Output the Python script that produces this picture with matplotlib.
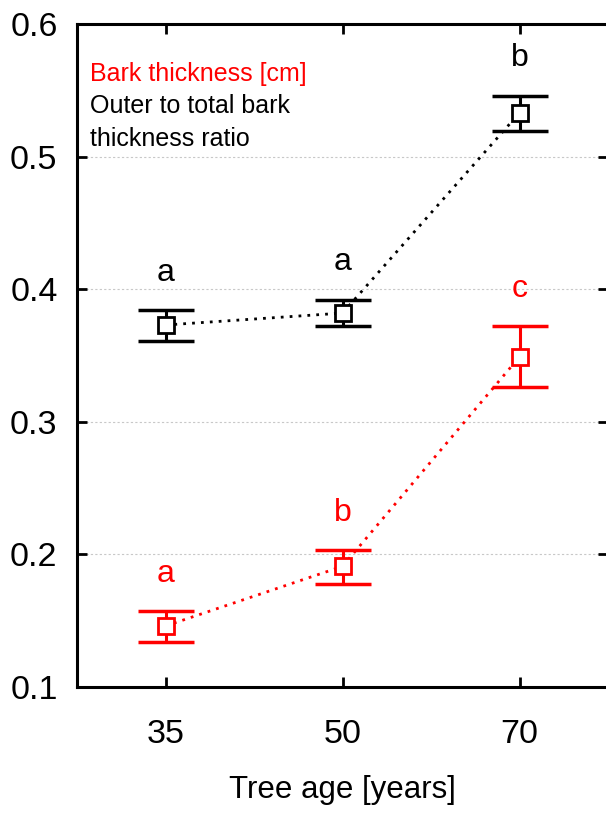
import matplotlib
matplotlib.use("Agg")
import matplotlib.pyplot as plt
import numpy as np

plt.rcParams['font.family'] = ['Liberation Sans', 'DejaVu Sans']

ages = ["35", "50", "70"]
bark_mean = [0.146, 0.191, 0.349]
bark_lo = [0.134, 0.178, 0.326]
bark_hi = [0.157, 0.203, 0.372]
bark_letters = ["a", "b", "c"]

ratio_mean = [0.373, 0.382, 0.533]
ratio_lo = [0.361, 0.372, 0.519]
ratio_hi = [0.384, 0.392, 0.546]
ratio_letters = ["a", "a", "b"]

yticks = [0.1, 0.2, 0.3, 0.4, 0.5, 0.6]

fig = plt.figure(figsize=(6.06, 8.13), dpi=100)
ax = fig.add_axes([77/606, 1-687/813, 531/606, (687-24)/813])

x = np.arange(len(ages))

def draw(mean, lo, hi, letters, color, label_off):
    mean = np.array(mean); lo = np.array(lo); hi = np.array(hi)
    ax.plot(x, mean, linestyle=(0, (1, 2.2)), color=color, lw=2, zorder=2)
    ax.errorbar(x, mean, yerr=[mean-lo, hi-mean], fmt='none', ecolor=color,
                elinewidth=2.2, capsize=20, capthick=2.5, zorder=3)
    ax.plot(x, mean, linestyle='none', marker='s', markersize=11.5,
            markerfacecolor='white', markeredgecolor=color, markeredgewidth=2, zorder=4)
    for xi, h, t in zip(x, hi, letters):
        ax.text(xi, h + label_off, t, color=color, ha='center', va='bottom', fontsize=23)

draw(ratio_mean, ratio_lo, ratio_hi, ratio_letters, 'black', 0.017)
draw(bark_mean, bark_lo, bark_hi, bark_letters, '#ff0000', 0.017)

ax.set_xlim(-0.5, 2.5)
ax.set_ylim(0.1, 0.6)
ax.set_xticks(x)
ax.set_xticklabels(ages)
ax.set_yticks(yticks)
ax.set_yticklabels([f"{v:.1f}" for v in yticks])
ax.tick_params(direction='in', length=7, width=2, top=True, right=True,
               labelsize=24.5)
ax.tick_params(axis='x', pad=23)
ax.tick_params(axis='y', pad=14)
for s in ax.spines.values():
    s.set_linewidth(2.2)
for v in [0.2, 0.3, 0.4, 0.5]:
    ax.axhline(v, color='#c8c8c8', lw=0.8, linestyle=(0, (2, 2)), zorder=0)

ax.set_xlabel("Tree age [years]", fontsize=22.5, labelpad=18)

ax.text(0.025, 0.925, "Bark thickness [cm]", color='#ff0000', fontsize=18,
        transform=ax.transAxes, ha='left', va='center')
ax.text(0.025, 0.876, "Outer to total bark", color='black', fontsize=18,
        transform=ax.transAxes, ha='left', va='center')
ax.text(0.025, 0.827, "thickness ratio", color='black', fontsize=18,
        transform=ax.transAxes, ha='left', va='center')

fig.savefig("out.png", dpi=100)
